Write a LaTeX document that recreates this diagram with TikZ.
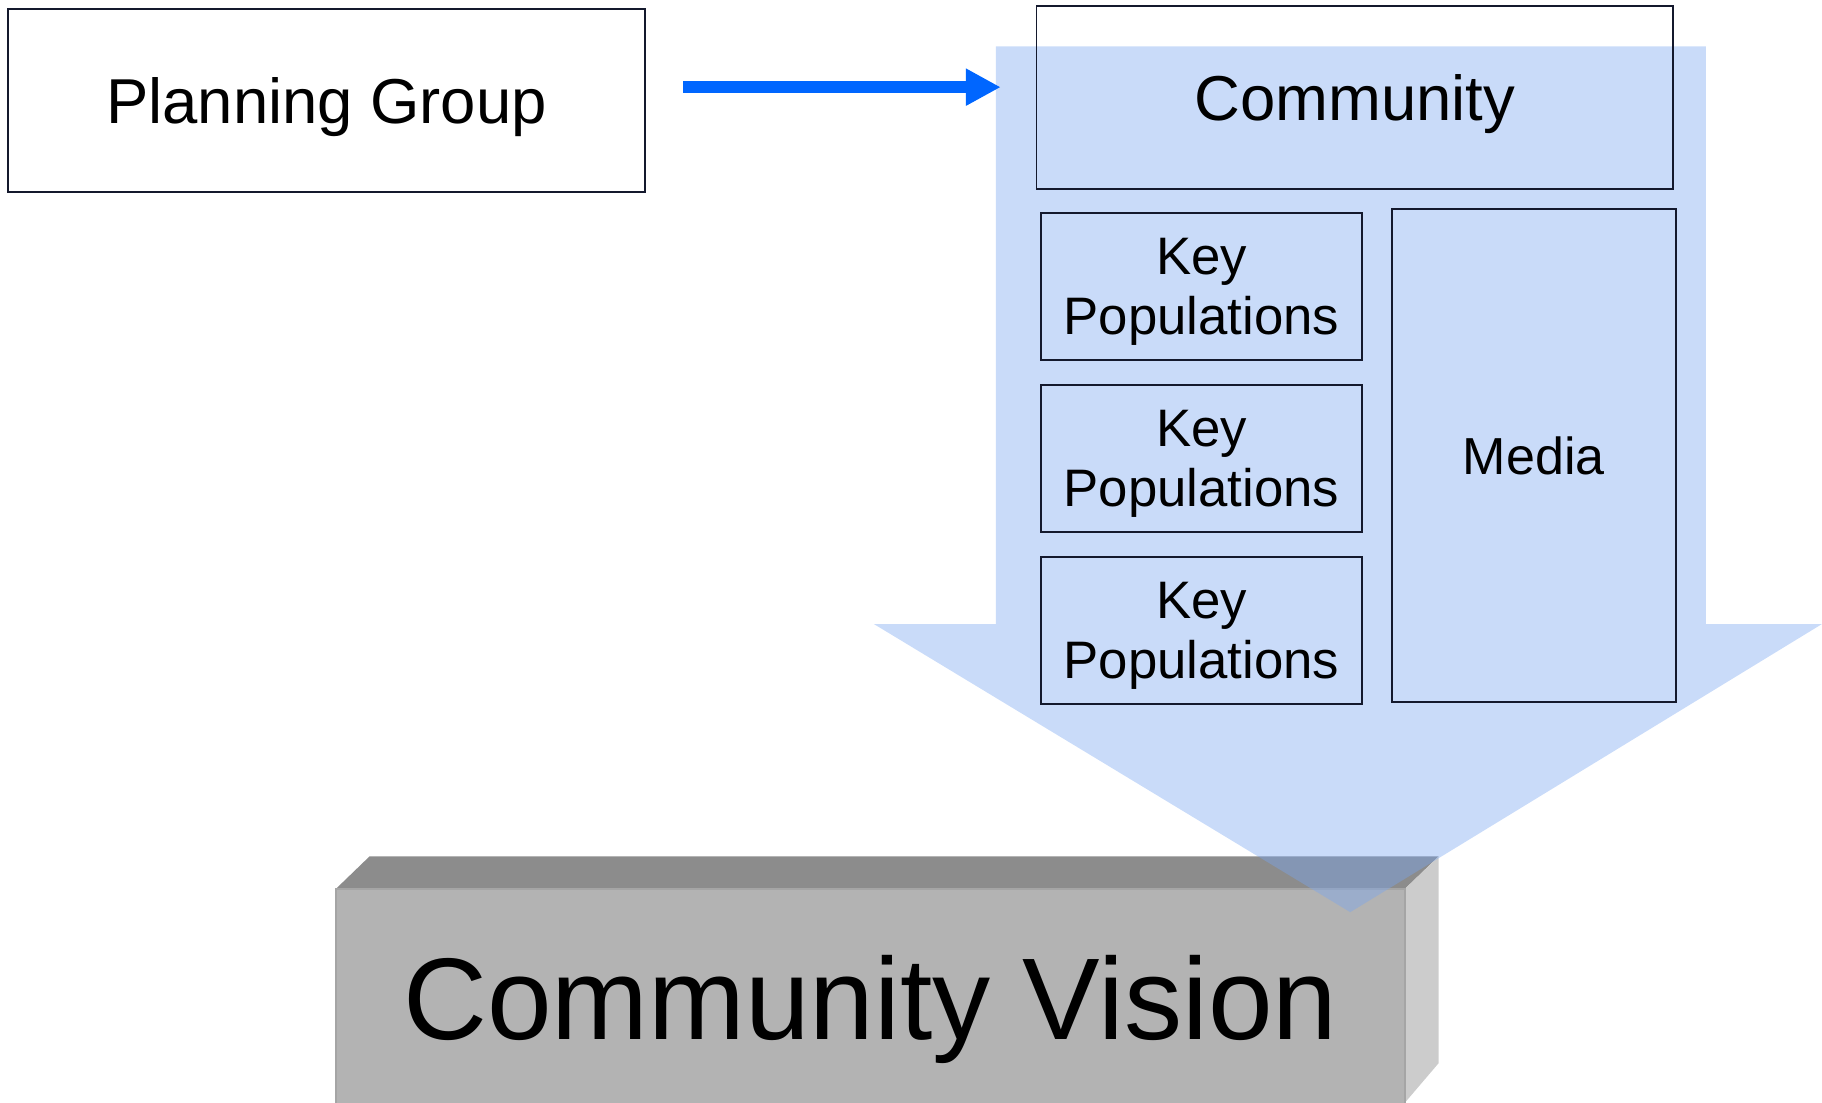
\documentclass[tikz,border=0pt]{standalone}
\usepackage{fontspec}
\setmainfont{Liberation Sans}
\usepackage{tikz}
\usetikzlibrary{arrows.meta}

\tikzset{
  box/.style={draw={rgb, 255:red, 20; green, 25; blue, 45 }, line width=0.8pt, inner sep=0pt, align=center, text depth=0pt},
  keybox/.style={box, minimum width=138pt, minimum height=63.5pt, font=\fontsize{22.7}{26}\selectfont},
  flow/.style={draw={rgb, 255:red, 0; green, 102; blue, 255 }, line width=5pt, -{Triangle[length=15pt,width=15pt]}},
}

\begin{document}
\begin{tikzpicture}[x=0.5pt,y=0.5pt,yscale=-1,xscale=1]
\useasboundingbox (0,0) rectangle (1568,949);

%Shape: Block front face
\fill [color={rgb, 255:red, 179; green, 179; blue, 179 }] (289,765) rectangle (1209,949) ;
%Shape: Block top face
\fill [color={rgb, 255:red, 140; green, 140; blue, 140 }] (289,765) -- (318,737) -- (1238,737) -- (1209,765) -- cycle ;
%Shape: Block side face
\fill [color={rgb, 255:red, 204; green, 204; blue, 204 }] (1209,765) -- (1238,737) -- (1238,915) -- (1209,949) -- cycle ;
%Straight Lines: Block edges
\draw [color={rgb, 255:red, 165; green, 165; blue, 165 }, line width=1pt] (289,949) -- (289,765) -- (1209,765) -- (1209,949) ;
%Shape: Down Arrow
\fill [color={rgb, 255:red, 120; green, 165; blue, 240 }, fill opacity=0.4] (857,40) -- (1468,40) -- (1468,537) -- (1568,537) -- (1162,785) -- (752,537) -- (857,537) -- cycle ;

% Text Node
\node [box, minimum width=274pt, minimum height=78.5pt, font=\fontsize{27.3}{32}\selectfont] (plan) at (281,86.5) {Planning Group};
% Text Node
\node [box, minimum width=274pt, minimum height=79pt, font=\fontsize{27.3}{32}\selectfont] (comm) at (1166,84) {Community};
% Text Node
\node [keybox] (keya) at (1034,246.5) {Key\\Populations};
% Text Node
\node [keybox] (keyb) at (1034,394.5) {Key\\Populations};
% Text Node
\node [keybox] (keyc) at (1034,542.5) {Key\\Populations};
% Text Node
\node [box, minimum width=122pt, minimum height=212pt, font=\fontsize{22.4}{26}\selectfont] (media) at (1320,392) {Media};
% Text Node
\node [inner sep=0pt, text depth=0pt, font=\fontsize{50}{60}\selectfont] (vision) at (749,858) {Community Vision};

%Straight Lines
\coordinate (flowy) at (0,75);
\draw [flow, shorten <=16pt, shorten >=15pt] (plan.east |- flowy) -- (comm.west |- flowy) ;

\end{tikzpicture}
\end{document}
